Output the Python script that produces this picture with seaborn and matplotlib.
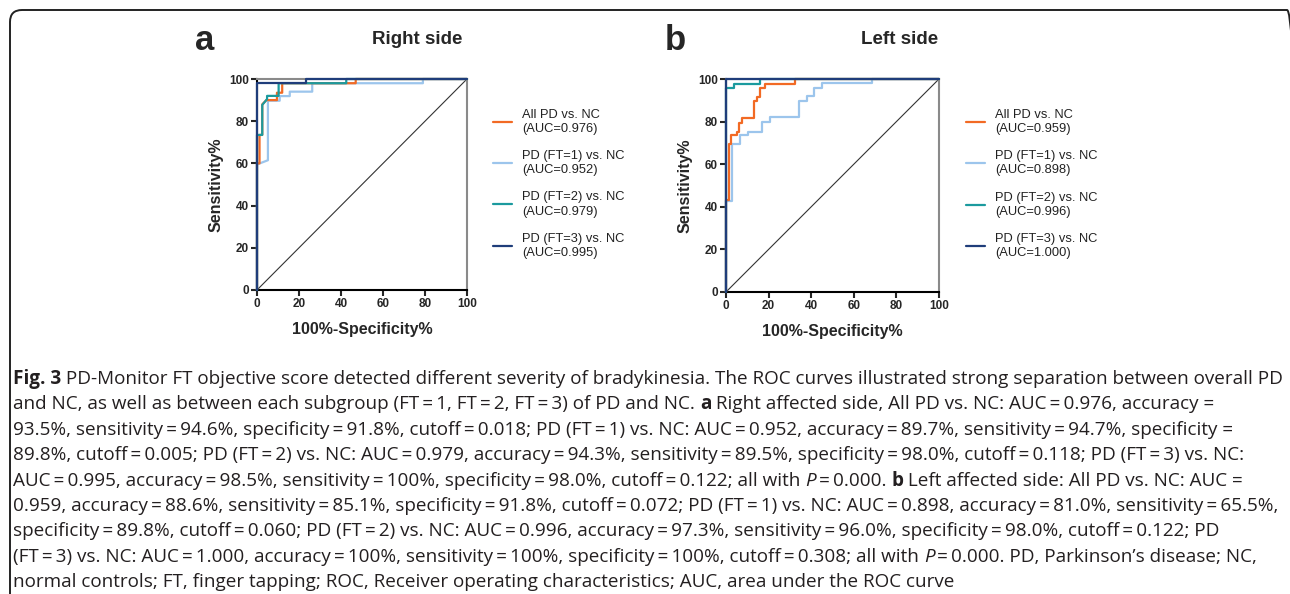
import re
import matplotlib
matplotlib.use("Agg")
import matplotlib.pyplot as plt
import seaborn as sns
import pandas as pd
from matplotlib.lines import Line2D
from matplotlib.patches import FancyBboxPatch
from matplotlib.transforms import IdentityTransform

W, H, DPI = 1290, 594, 100

groups = ["All PD vs. NC", "PD (FT=1) vs. NC", "PD (FT=2) vs. NC", "PD (FT=3) vs. NC"]
colors = ["#f26a24", "#9cc5ec", "#1b9a9e", "#1f3d7a"]
# draw order (bottom to top)
draw_order = ["PD (FT=1) vs. NC", "All PD vs. NC", "PD (FT=2) vs. NC", "PD (FT=3) vs. NC"]

# ROC step curves: 100%-Specificity% (x), Sensitivity% (y)
right_all_x = [0, 0, 1.2, 1.2, 2.5, 2.5, 4.5, 9.5, 9.5, 12, 12, 47, 47, 100]
right_all_y = [0, 60, 60, 73.5, 73.5, 88, 90, 90, 93.5, 93.5, 98, 98, 100, 100]
right_ft1_x = [0, 0, 5.2, 5.2, 10.8, 10.8, 15.6, 15.6, 26.3, 26.3, 79, 79, 100]
right_ft1_y = [0, 59.5, 61.5, 89.7, 89.7, 91.9, 91.9, 94, 94, 98, 98, 100, 100]
right_ft2_x = [0, 0, 2.5, 2.5, 4.8, 4.8, 10.3, 10.3, 42.5, 42.5, 100]
right_ft2_y = [0, 73.5, 73.5, 87.7, 90.5, 92, 92, 98, 98, 100, 100]
right_ft3_x = [0, 0, 23.5, 23.5, 100]
right_ft3_y = [0, 98, 98, 100, 100]

left_all_x = [0, 0, 1.2, 1.2, 2.3, 2.3, 5, 5, 6.3, 6.3, 7.5, 7.5, 13.3, 13.3, 14.4, 14.4,
              16, 16, 18.3, 18.3, 32.4, 32.4, 100]
left_all_y = [0, 43.3, 43.3, 69.5, 69.5, 73.8, 73.8, 75.3, 75.3, 79.2, 79.2, 81.6, 81.6, 89.8,
              89.8, 91.7, 91.7, 95.6, 95.6, 97.7, 97.7, 100, 100]
left_ft1_x = [0, 0, 2.8, 2.8, 6.8, 6.8, 10.4, 10.4, 16.8, 16.8, 20.5, 20.5, 34.2, 34.2, 38, 38,
              41.2, 41.2, 45, 45, 68.7, 68.7, 100]
left_ft1_y = [0, 42.5, 42.5, 69.5, 69.5, 73.8, 73.8, 75.3, 75.3, 80, 80, 82, 82, 89.8, 89.8, 92,
              92, 96, 96, 98, 98, 100, 100]
left_ft2_x = [0, 0, 3.9, 3.9, 16.1, 16.1, 100]
left_ft2_y = [0, 95.6, 95.6, 97.8, 97.8, 100, 100]
left_ft3_x = [0, 0, 100]
left_ft3_y = [0, 100, 100]

right_auc = ["0.976", "0.952", "0.979", "0.995"]
left_auc = ["0.959", "0.898", "0.996", "1.000"]

ticks = [0, 20, 40, 60, 80, 100]

caption_lines = [
    "**Fig. 3** PD-Monitor FT objective score detected different severity of bradykinesia. The ROC curves illustrated strong separation between overall PD",
    "and NC, as well as between each subgroup (FT = 1, FT = 2, FT = 3) of PD and NC. **a** Right affected side, All PD vs. NC: AUC = 0.976, accuracy =",
    "93.5%, sensitivity = 94.6%, specificity = 91.8%, cutoff = 0.018; PD (FT = 1) vs. NC: AUC = 0.952, accuracy = 89.7%, sensitivity = 94.7%, specificity =",
    "89.8%, cutoff = 0.005; PD (FT = 2) vs. NC: AUC = 0.979, accuracy = 94.3%, sensitivity = 89.5%, specificity = 98.0%, cutoff = 0.118; PD (FT = 3) vs. NC:",
    "AUC = 0.995, accuracy = 98.5%, sensitivity = 100%, specificity = 98.0%, cutoff = 0.122; all with *P* = 0.000. **b** Left affected side: All PD vs. NC: AUC =",
    "0.959, accuracy = 88.6%, sensitivity = 85.1%, specificity = 91.8%, cutoff = 0.072; PD (FT = 1) vs. NC: AUC = 0.898, accuracy = 81.0%, sensitivity = 65.5%,",
    "specificity = 89.8%, cutoff = 0.060; PD (FT = 2) vs. NC: AUC = 0.996, accuracy = 97.3%, sensitivity = 96.0%, specificity = 98.0%, cutoff = 0.122; PD",
    "(FT = 3) vs. NC: AUC = 1.000, accuracy = 100%, sensitivity = 100%, specificity = 100%, cutoff = 0.308; all with *P* = 0.000. PD, Parkinson\u2019s disease; NC,",
    "normal controls; FT, finger tapping; ROC, Receiver operating characteristics; AUC, area under the ROC curve",
]


def make_frame(curves):
    rows = []
    for name, (xs, ys) in zip(groups, curves):
        for i, (x, y) in enumerate(zip(xs, ys)):
            rows.append({"group": name, "step": i, "fpr": x, "tpr": y})
    return pd.DataFrame(rows)


right_df = make_frame([(right_all_x, right_all_y), (right_ft1_x, right_ft1_y),
                       (right_ft2_x, right_ft2_y), (right_ft3_x, right_ft3_y)])
left_df = make_frame([(left_all_x, left_all_y), (left_ft1_x, left_ft1_y),
                      (left_ft2_x, left_ft2_y), (left_ft3_x, left_ft3_y)])

sns.set_style("ticks")
plt.rcParams["font.family"] = ["Liberation Sans", "DejaVu Sans"]

fig = plt.figure(figsize=(W / DPI, H / DPI), dpi=DPI)
renderer = fig.canvas.get_renderer()
palette = dict(zip(groups, colors))


def px_axes(left, top, right, bottom):
    return fig.add_axes([left / W, 1 - bottom / H, (right - left) / W, (bottom - top) / H])


def draw_panel(ax, df, aucs, legend_x):
    ax.plot([0, 100], [0, 100], color="#333333", lw=0.8, zorder=1)
    sns.lineplot(data=df, x="fpr", y="tpr", hue="group", hue_order=draw_order,
                 palette=palette, sort=False, estimator=None, lw=1.6,
                 legend=False, ax=ax, clip_on=False, zorder=3)
    ax.set_xlim(0, 100)
    ax.set_ylim(0, 100)
    ax.set_xticks(ticks)
    ax.set_yticks(ticks)
    ax.set_xlabel("100%-Specificity%", fontsize=11.5, fontweight="bold", labelpad=8.5)
    ax.set_ylabel("Sensitivity%", fontsize=11.5, fontweight="bold", labelpad=4)
    for side in ["left", "bottom"]:
        ax.spines[side].set_color("black")
        ax.spines[side].set_linewidth(1.5)
    for side in ["top", "right"]:
        ax.spines[side].set_visible(True)
        ax.spines[side].set_color("#8a8a8a")
        ax.spines[side].set_linewidth(1.5)
    ax.tick_params(direction="out", length=4, width=1.5, labelsize=8.5, pad=2)
    for lab in ax.get_xticklabels() + ax.get_yticklabels():
        lab.set_fontweight("bold")
    handles = [Line2D([], [], color=c, lw=1.6) for c in colors]
    labels = [f"{g}\n(AUC={a})" for g, a in zip(groups, aucs)]
    leg = ax.legend(handles, labels, loc="upper left", bbox_to_anchor=(legend_x, 0.86),
                    frameon=False, fontsize=9.3, handlelength=1.5, handletextpad=0.75,
                    labelspacing=1.17, borderpad=0, borderaxespad=0)
    for t in leg.get_texts():
        t.set_linespacing(1.25)
        t.set_color("#222222")


ax_a = px_axes(257, 79, 467, 290)
draw_panel(ax_a, right_df, right_auc, 1.124)
ax_b = px_axes(726, 79, 939, 292)
draw_panel(ax_b, left_df, left_auc, 1.127)

fig.text(205 / W, 1 - 41 / H, "a", fontsize=25, fontweight="bold", ha="center", va="center")
fig.text(417 / W, 1 - 40 / H, "Right side", fontsize=13.5, fontweight="bold", ha="center", va="center")
fig.text(675 / W, 1 - 41 / H, "b", fontsize=25, fontweight="bold", ha="center", va="center")
fig.text(900 / W, 1 - 40 / H, "Left side", fontsize=13.5, fontweight="bold", ha="center", va="center")

# rounded frame around the figure, open at the bottom and cut by the right edge
frame = FancyBboxPatch((10, -40), 1289, H - 10 + 40, boxstyle="round,pad=0,rounding_size=12",
                       transform=IdentityTransform(), fill=False, ec="#222222", lw=1.4)
fig.patches.append(frame)

# caption, drawn segment by segment so bold / italic runs can be mixed
cap_font = ["Open Sans", "DejaVu Sans"]


def seg_width(s, **kw):
    t = fig.text(0, 0, s + "|", **kw)
    w1 = t.get_window_extent(renderer).width
    t.set_text("|")
    w0 = t.get_window_extent(renderer).width
    t.remove()
    return w1 - w0


def split_runs(line):
    runs = []
    for part in re.split(r"(\*\*.+?\*\*|\*.+?\*)", line):
        if not part:
            continue
        part_txt = part.replace(" = ", "\u2009=\u2009")
        if part.startswith("**"):
            runs.append((part_txt[2:-2], "bold", "normal"))
        elif part.startswith("*"):
            runs.append((part_txt[1:-1], "normal", "italic"))
        else:
            runs.append((part_txt, "normal", "normal"))
    return runs


def line_width(line, size):
    return sum(seg_width(s, fontsize=size, fontweight=w, fontstyle=st, family=cap_font)
               for s, w, st in split_runs(line))


cap_size = 12.0 * 1260 / line_width(caption_lines[0], 12.0)
cap_top, cap_step = 379, 25.4
for k, line in enumerate(caption_lines):
    x = 13
    y = 1 - (cap_top + k * cap_step) / H
    for s, w, st in split_runs(line):
        kw = dict(fontsize=cap_size, fontweight=w, fontstyle=st, family=cap_font, color="#231f20")
        fig.text(x / W, y, s, va="center", ha="left", **kw)
        x += seg_width(s, **kw)

fig.savefig("out.png", dpi=DPI)
